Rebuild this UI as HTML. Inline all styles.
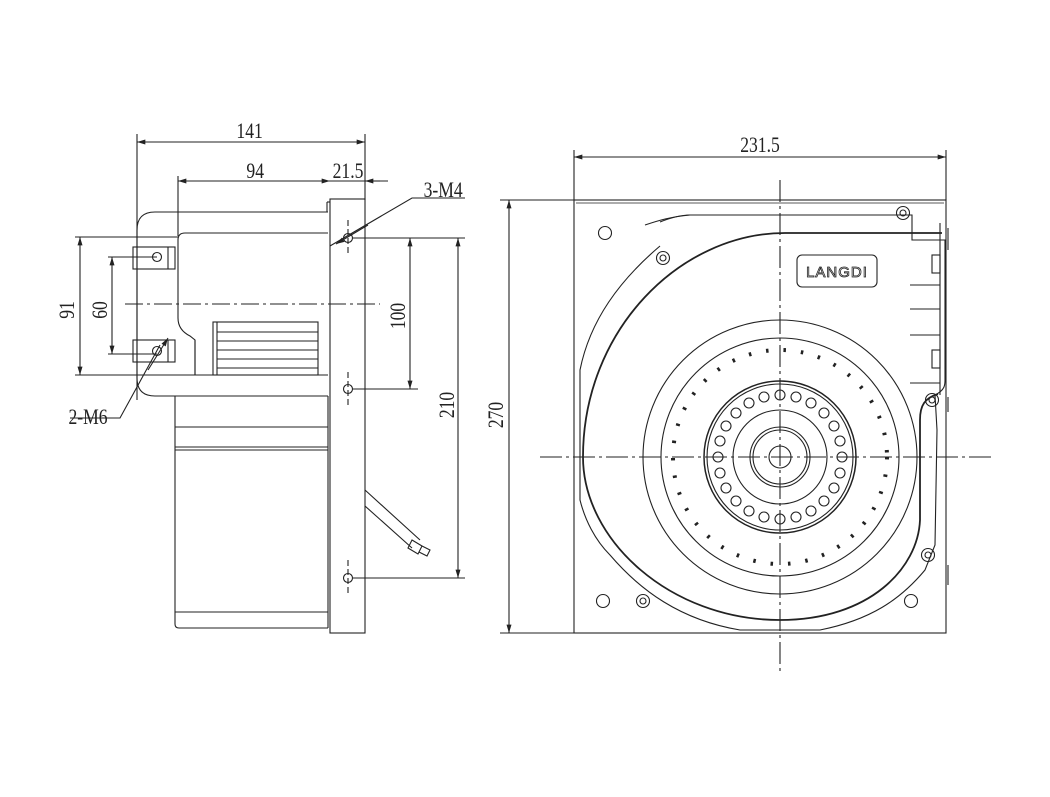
<!DOCTYPE html>
<html><head><meta charset="utf-8"><style>
html,body{margin:0;padding:0;background:#fff;}
svg{display:block;}
text{font-family:"Liberation Serif",serif;font-size:22px;fill:#222;}
</style></head><body>
<svg width="1050" height="797" viewBox="0 0 1050 797" xmlns="http://www.w3.org/2000/svg">
<defs>
<marker id="a" viewBox="0 0 10 6" refX="10" refY="3" markerWidth="12" markerHeight="5" orient="auto-start-reverse" markerUnits="userSpaceOnUse"><path d="M0,0 L10,3 L0,6 z" fill="#222"/></marker>
</defs>
<g fill="none" stroke="#222" stroke-width="1.1">
<line x1="137" y1="134" x2="137" y2="400"/>
<line x1="365" y1="134" x2="365" y2="200"/>
<line x1="137" y1="142" x2="365" y2="142" marker-start="url(#a)" marker-end="url(#a)"/>
<line x1="178" y1="176" x2="178" y2="236"/>
<line x1="178" y1="181" x2="330" y2="181" marker-start="url(#a)" marker-end="url(#a)"/>
<line x1="330" y1="181" x2="388" y2="181"/>
<line x1="365" y1="181" x2="380" y2="181" marker-start="url(#a)"/>
<rect x="330" y="199" width="35" height="434"/>
<line x1="327" y1="202" x2="330" y2="202"/>
<line x1="327" y1="202" x2="327" y2="212"/>
<path d="M328 212 L155 212 Q137 212 137 230 L137 378 Q137 396 155 396 L328 396"/>
<path d="M328 233 L185 233 Q178 233 178 240 L178 318 Q178 330 190 336 L195 340 L195 375"/>
<line x1="178" y1="375" x2="328" y2="375"/>
<line x1="195" y1="340" x2="195" y2="375"/>
<rect x="133" y="247" width="42" height="22"/><line x1="168" y1="247" x2="168" y2="269"/>
<rect x="133" y="340" width="42" height="22"/><line x1="168" y1="340" x2="168" y2="362"/>
<circle cx="157" cy="257" r="4.5"/><circle cx="157" cy="351" r="4.5"/>
<rect x="213" y="322" width="105" height="53"/>
<line x1="217" y1="332" x2="318" y2="332"/><line x1="217" y1="341" x2="318" y2="341"/>
<line x1="217" y1="350" x2="318" y2="350"/><line x1="217" y1="359" x2="318" y2="359"/>
<line x1="217" y1="368" x2="318" y2="368"/><line x1="217" y1="322" x2="217" y2="375"/>
<path d="M175 396 L175 624 Q175 628 179 628 L328 628"/>
<line x1="328" y1="396" x2="328" y2="628"/>
<line x1="175" y1="427" x2="328" y2="427"/>
<line x1="175" y1="447" x2="328" y2="447"/>
<line x1="175" y1="450" x2="328" y2="450"/>
<line x1="175" y1="612" x2="328" y2="612"/>
<line x1="125" y1="304" x2="380" y2="304" stroke-dasharray="18 4 3 4"/>
<circle cx="348" cy="238" r="4.5"/><circle cx="348" cy="389" r="4.5"/><circle cx="348" cy="578" r="4.5"/>
<line x1="348" y1="220" x2="348" y2="256" stroke-dasharray="6 3"/>
<line x1="348" y1="372" x2="348" y2="405" stroke-dasharray="6 3"/>
<line x1="348" y1="560" x2="348" y2="594" stroke-dasharray="6 3"/>
<path d="M365 490 L420 540 M365 506 L412 548"/>
<path d="M412 540 l10 6 l-4 8 l-10 -6 z M422 546 l8 4 l-3 6 l-8 -4"/>
<line x1="353" y1="238" x2="465" y2="238"/>
<line x1="353" y1="389" x2="418" y2="389"/>
<line x1="353" y1="578" x2="465" y2="578"/>
<line x1="410" y1="238" x2="410" y2="389" marker-start="url(#a)" marker-end="url(#a)"/>
<line x1="458" y1="238" x2="458" y2="578" marker-start="url(#a)" marker-end="url(#a)"/>
<line x1="75" y1="237" x2="178" y2="237"/>
<line x1="75" y1="375" x2="178" y2="375"/>
<line x1="108" y1="257" x2="157" y2="257"/>
<line x1="108" y1="354" x2="157" y2="354"/>
<line x1="80" y1="237" x2="80" y2="375" marker-start="url(#a)" marker-end="url(#a)"/>
<line x1="112" y1="257" x2="112" y2="354" marker-start="url(#a)" marker-end="url(#a)"/>
<path d="M70 418 L120 418 L160 345" />
<line x1="148" y1="370" x2="168" y2="338" marker-end="url(#a)"/>
<path d="M465 198 L412 198 L330 246"/>
<line x1="368" y1="225" x2="336" y2="244" marker-end="url(#a)"/>

<line x1="574" y1="150" x2="574" y2="200"/>
<line x1="946" y1="150" x2="946" y2="200"/>
<line x1="574" y1="157" x2="946" y2="157" marker-start="url(#a)" marker-end="url(#a)"/>
<line x1="500" y1="200" x2="574" y2="200"/>
<line x1="500" y1="633" x2="574" y2="633"/>
<line x1="509" y1="200" x2="509" y2="633" marker-start="url(#a)" marker-end="url(#a)"/>
<rect x="574" y="200" width="372" height="433"/>
<line x1="576" y1="203" x2="944" y2="203" stroke-width="0.7"/>
<path d="M660 246 C620 280 590 320 580 370 L580 500 C585 520 595 540 610 555 C640 590 680 620 740 630 L820 630 C870 620 900 600 925 570 L935 545 L937 430 L935 395 C945 390 945 385 945 380 L945 240 L912 240 L912 215 L690 215 C680 215 670 218 660 222"/>
<path d="M690 215 C670 217 660 220 645 225"/>
<path d="M942 233 L785 233 C680 233 583 330 583 457 C583 540 670 620 780 620 C870 620 918 568 920 520 L920 420 C920 405 925 398 938 394" stroke-width="1.8"/>
<line x1="940" y1="223" x2="940" y2="395"/>
<line x1="948" y1="228" x2="948" y2="250"/>
<line x1="948" y1="397" x2="948" y2="412"/>
<line x1="948" y1="565" x2="948" y2="585"/>
<path d="M910 285 L940 285 M910 309 L940 309 M910 335 L940 335 M910 383 L940 383"/>
<rect x="932" y="255" width="8" height="18"/><rect x="932" y="350" width="8" height="18"/>
<g>
<circle cx="663" cy="258" r="6.5"/><circle cx="903" cy="213" r="6.5"/><circle cx="932" cy="400" r="6.5"/>
<circle cx="928" cy="555" r="6.5"/><circle cx="643" cy="601" r="6.5"/>
<circle cx="663" cy="258" r="3"/><circle cx="903" cy="213" r="3"/><circle cx="932" cy="400" r="3"/>
<circle cx="928" cy="555" r="3"/><circle cx="643" cy="601" r="3"/>
</g>
<circle cx="605" cy="233" r="6.5"/><circle cx="603" cy="601" r="6.5"/><circle cx="911" cy="601" r="6.5"/>
<rect x="797" y="255" width="80" height="32" rx="5"/>
<circle cx="780" cy="457" r="137"/>
<circle cx="780" cy="457" r="119"/>
<circle cx="780" cy="457" r="107" stroke-width="4" stroke-dasharray="2.5 15"/>
<circle cx="780" cy="457" r="76" stroke-width="1.5"/>
<circle cx="780" cy="457" r="73"/>
<circle cx="780" cy="457" r="47"/>
<circle cx="780" cy="457" r="30"/>
<circle cx="780" cy="457" r="27"/>
<circle cx="780" cy="457" r="11"/>
<g>
<circle cx="842" cy="457" r="5"/><circle cx="840" cy="473" r="5"/><circle cx="834" cy="488" r="5"/><circle cx="824" cy="501" r="5"/>
<circle cx="811" cy="511" r="5"/><circle cx="796" cy="517" r="5"/><circle cx="780" cy="519" r="5"/><circle cx="764" cy="517" r="5"/>
<circle cx="749" cy="511" r="5"/><circle cx="736" cy="501" r="5"/><circle cx="726" cy="488" r="5"/><circle cx="720" cy="473" r="5"/>
<circle cx="718" cy="457" r="5"/><circle cx="720" cy="441" r="5"/><circle cx="726" cy="426" r="5"/><circle cx="736" cy="413" r="5"/>
<circle cx="749" cy="403" r="5"/><circle cx="764" cy="397" r="5"/><circle cx="780" cy="395" r="5"/><circle cx="796" cy="397" r="5"/>
<circle cx="811" cy="403" r="5"/><circle cx="824" cy="413" r="5"/><circle cx="834" cy="426" r="5"/><circle cx="840" cy="441" r="5"/>
</g>
<line x1="540" y1="457" x2="995" y2="457" stroke-dasharray="22 4 3 4"/>
<line x1="780" y1="180" x2="780" y2="672" stroke-dasharray="22 4 3 4"/>
</g>
<g transform="scale(0.8,1)">
<text x="312" y="138" text-anchor="middle">141</text>
<text x="319" y="178" text-anchor="middle">94</text>
<text x="435" y="178" text-anchor="middle">21.5</text>
<text x="554" y="197" text-anchor="middle">3-M4</text>
<text x="110" y="424" text-anchor="middle">2-M6</text>
<text x="950" y="152" text-anchor="middle">231.5</text>
</g>
<text transform="translate(74,310) rotate(-90) scale(0.8,1)" text-anchor="middle">91</text>
<text transform="translate(107,310) rotate(-90) scale(0.8,1)" text-anchor="middle">60</text>
<text transform="translate(405,316) rotate(-90) scale(0.8,1)" text-anchor="middle">100</text>
<text transform="translate(454,405) rotate(-90) scale(0.8,1)" text-anchor="middle">210</text>
<text transform="translate(503,415) rotate(-90) scale(0.8,1)" text-anchor="middle">270</text>
<text x="837" y="277" text-anchor="middle" style="font-family:'Liberation Sans',sans-serif;font-size:15px;letter-spacing:1px;fill:none;stroke:#222;stroke-width:0.8">LANGDI</text>
</svg>
</body></html>
